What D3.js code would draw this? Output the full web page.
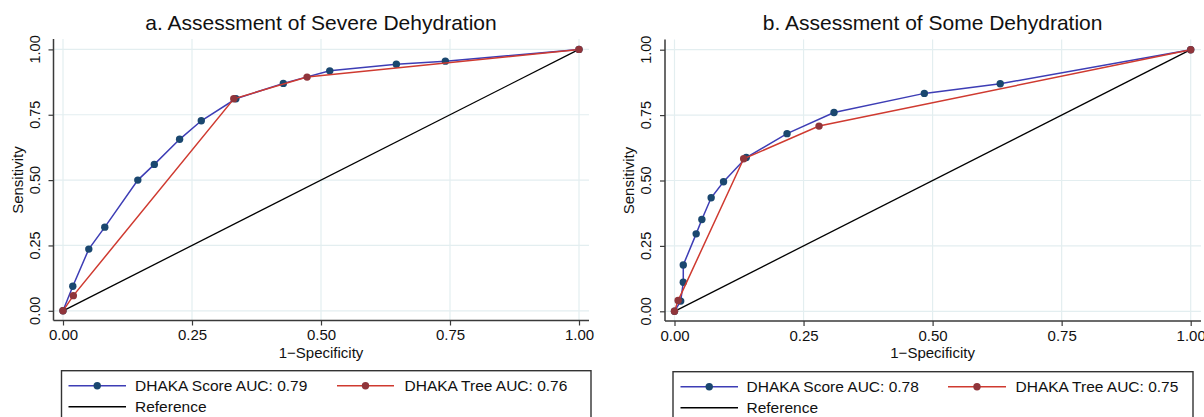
<!DOCTYPE html>
<html>
<head>
<meta charset="utf-8">
<script src="https://cdn.jsdelivr.net/npm/d3@7"></script>
<style>
  html, body { margin: 0; padding: 0; background: #fff; }
  svg { display: block; font-family: "Liberation Sans", Arial, Helvetica, sans-serif; }
</style>
</head>
<body>
<svg id="chart" width="1204" height="417"></svg>
<script>
// ---- data ----
const ticks = [0, 0.25, 0.5, 0.75, 1];
const tickLabels = ["0.00", "0.25", "0.50", "0.75", "1.00"];
const titles = ["a. Assessment of Severe Dehydration", "b. Assessment of Some Dehydration"];
const seriesNames = ["DHAKA Score", "DHAKA Tree"];
const aucA = [0.79, 0.76];
const aucB = [0.78, 0.75];

const scoreA_x = [0, 0.019, 0.050, 0.081, 0.145, 0.177, 0.226, 0.268, 0.335, 0.427, 0.517, 0.646, 0.741, 1];
const scoreA_y = [0, 0.094, 0.236, 0.320, 0.500, 0.560, 0.656, 0.727, 0.811, 0.870, 0.918, 0.943, 0.955, 1];
const treeA_x = [0, 0.020, 0.331, 0.473, 1];
const treeA_y = [0, 0.058, 0.811, 0.894, 1];

const scoreB_x = [0, 0.012, 0.017, 0.017, 0.042, 0.053, 0.071, 0.095, 0.139, 0.218, 0.309, 0.484, 0.631, 1];
const scoreB_y = [0, 0.039, 0.111, 0.177, 0.296, 0.351, 0.434, 0.495, 0.588, 0.679, 0.760, 0.833, 0.870, 1];
const treeB_x = [0, 0.007, 0.134, 0.280, 1];
const treeB_y = [0, 0.041, 0.583, 0.708, 1];

const refX = [0, 1];
const refY = [0, 1];

// ---- style ----
const BLUE_LINE = "#3d3db5", BLUE_MK = "#1a476f";
const RED_LINE = "#cf3a30", RED_MK = "#90353b";
const GRID = "#e3eef0", AXIS = "#3a3a3a";

const svg = d3.select("#chart");
svg.append("rect").attr("width", 1204).attr("height", 417).attr("fill", "#fff");

const panels = [
  { title: titles[0], auc: aucA, score: [scoreA_x, scoreA_y], tree: [treeA_x, treeA_y],
    xr: [63, 579], yr: [310.8, 49.4], ax: 53.5, ay: 320.5, axEnd: 589, ayTop: 39,
    ylab: 34.5, sens: 17.5, legX: 61.5, legW: 529.5, legTop: 370.7,
    leg: { l1: 68.5, l2: 126, t1: 135, l3: 337, l4: 394, t2: 404.5 } },
  { title: titles[1], auc: aucB, score: [scoreB_x, scoreB_y], tree: [treeB_x, treeB_y],
    xr: [674.5, 1190.7], yr: [311.3, 49.7], ax: 665, ay: 321, axEnd: 1201, ayTop: 39.5,
    ylab: 645.5, sens: 629, legX: 673, legW: 520, legTop: 371.7,
    leg: { l1: 680.5, l2: 738, t1: 746.5, l3: 948, l4: 1006, t2: 1015.5 } }
];

panels.forEach(p => {
  const x = d3.scaleLinear().domain([0, 1]).range(p.xr);
  const y = d3.scaleLinear().domain([0, 1]).range(p.yr);
  const g = svg.append("g");

  // grid
  g.selectAll(".vg").data(ticks).join("line")
    .attr("x1", d => x(d)).attr("x2", d => x(d))
    .attr("y1", p.ay).attr("y2", p.ayTop)
    .attr("stroke", GRID).attr("stroke-width", 1.2);
  g.selectAll(".hg").data(ticks).join("line")
    .attr("x1", p.ax).attr("x2", p.axEnd)
    .attr("y1", d => y(d)).attr("y2", d => y(d))
    .attr("stroke", GRID).attr("stroke-width", 1.2);

  // x axis
  const xAxis = d3.axisBottom(x).tickValues(ticks).tickFormat((d, i) => tickLabels[i])
    .tickSize(5).tickSizeOuter(0).tickPadding(3);
  const xg = g.append("g").attr("transform", `translate(0,${p.ay})`).call(xAxis);
  xg.select(".domain").remove();
  xg.append("line").attr("x1", p.ax).attr("x2", p.axEnd).attr("y1", 0).attr("y2", 0)
    .attr("stroke", AXIS).attr("stroke-width", 1.5);
  xg.selectAll(".tick line").attr("stroke", AXIS).attr("stroke-width", 1.2);
  xg.selectAll(".tick text").attr("font-size", "15px").attr("fill", "#111")
    .attr("font-family", "Liberation Sans, Arial, sans-serif").attr("dy", null).attr("y", 19.5);

  // y axis
  const yAxis = d3.axisLeft(y).tickValues(ticks).tickFormat("").tickSize(5).tickSizeOuter(0);
  const yg = g.append("g").attr("transform", `translate(${p.ax},0)`).call(yAxis);
  yg.select(".domain").remove();
  yg.append("line").attr("x1", 0).attr("x2", 0).attr("y1", p.ay).attr("y2", p.ayTop)
    .attr("stroke", AXIS).attr("stroke-width", 1.5);
  yg.selectAll(".tick line").attr("stroke", AXIS).attr("stroke-width", 1.2);
  g.selectAll(".ylab").data(ticks).join("text")
    .attr("transform", d => `translate(${p.ylab},${y(d)}) rotate(-90)`)
    .attr("text-anchor", "middle").attr("dy", "0.36em")
    .attr("font-size", "14.5px").attr("fill", "#111")
    .text((d, i) => tickLabels[i]);

  // axis titles
  g.append("text").attr("transform", `translate(${p.sens},${y(0.5)}) rotate(-90)`)
    .attr("text-anchor", "middle").attr("dy", "0.36em")
    .attr("font-size", "15px").attr("fill", "#111").text("Sensitivity");
  g.append("text").attr("x", x(0.5)).attr("y", 357.5)
    .attr("text-anchor", "middle").attr("font-size", "15px").attr("fill", "#111")
    .text("1\u2212Specificity");

  // title
  g.append("text").attr("x", x(0.5)).attr("y", 30)
    .attr("text-anchor", "middle").attr("font-size", "21px").attr("fill", "#111")
    .text(p.title);

  // reference line
  const line = d3.line().x(d => x(d[0])).y(d => y(d[1]));
  g.append("path").datum(d3.zip(refX, refY)).attr("d", line)
    .attr("fill", "none").attr("stroke", "#000").attr("stroke-width", 1.3);

  // series
  const series = [
    { pts: d3.zip(p.score[0], p.score[1]), lc: BLUE_LINE, mc: BLUE_MK },
    { pts: d3.zip(p.tree[0], p.tree[1]), lc: RED_LINE, mc: RED_MK }
  ];
  series.forEach(s => {
    g.append("path").datum(s.pts).attr("d", line)
      .attr("fill", "none").attr("stroke", s.lc).attr("stroke-width", 1.5);
    g.selectAll(null).data(s.pts).join("circle")
      .attr("cx", d => x(d[0])).attr("cy", d => y(d[1])).attr("r", 3.7)
      .attr("fill", s.mc);
  });

  // legend
  const L = p.leg;
  const lg = g.append("g");
  lg.append("rect").attr("x", p.legX).attr("y", p.legTop).attr("width", p.legW).attr("height", 80)
    .attr("fill", "#fff").attr("stroke", "#333").attr("stroke-width", 1.4);
  const r1 = p.legTop + 15, r2 = p.legTop + 36;
  const items = [
    { a: L.l1, b: L.l2, t: L.t1, cy: r1, lc: BLUE_LINE, mc: BLUE_MK, txt: `${seriesNames[0]} AUC: ${p.auc[0].toFixed(2)}` },
    { a: L.l3, b: L.l4, t: L.t2, cy: r1, lc: RED_LINE, mc: RED_MK, txt: `${seriesNames[1]} AUC: ${p.auc[1].toFixed(2)}` },
    { a: L.l1, b: L.l2, t: L.t1, cy: r2, lc: "#000", mc: null, txt: "Reference" }
  ];
  items.forEach(it => {
    lg.append("line").attr("x1", it.a).attr("x2", it.b).attr("y1", it.cy).attr("y2", it.cy)
      .attr("stroke", it.lc).attr("stroke-width", 1.5);
    if (it.mc) lg.append("circle").attr("cx", (it.a + it.b) / 2).attr("cy", it.cy).attr("r", 3.7).attr("fill", it.mc);
    lg.append("text").attr("x", it.t).attr("y", it.cy).attr("dy", "0.36em")
      .attr("font-size", "15.5px").attr("fill", "#111").text(it.txt);
  });
});
</script>
</body>
</html>
